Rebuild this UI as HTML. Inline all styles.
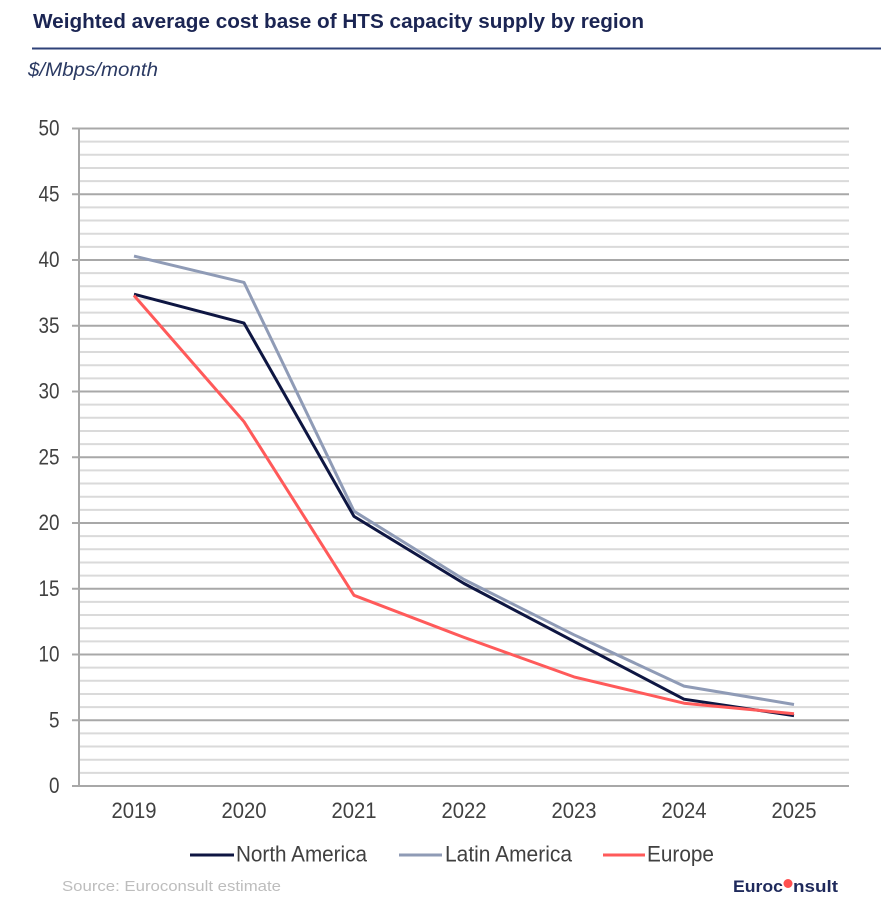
<!DOCTYPE html>
<html>
<head>
<meta charset="utf-8">
<style>
html,body{margin:0;padding:0;background:#ffffff;}
svg{display:block;}
text{font-family:"Liberation Sans",Arial,sans-serif;}
</style>
</head>
<body>
<svg width="891" height="906" viewBox="0 0 891 906" xmlns="http://www.w3.org/2000/svg">
<rect width="891" height="906" fill="#ffffff"/>
<text x="33" y="28" font-size="20" font-weight="bold" fill="#1b2553" textLength="611" lengthAdjust="spacingAndGlyphs">Weighted average cost base of HTS capacity supply by region</text>
<line x1="32" y1="48.5" x2="881" y2="48.5" stroke="#2f4279" stroke-width="2"/>
<text x="28" y="76" font-size="19" font-style="italic" fill="#2b3a63" textLength="130" lengthAdjust="spacingAndGlyphs">$/Mbps/month</text>
<g stroke="#dadada" stroke-width="2">
<line x1="79" x2="849" y1="772.85" y2="772.85"/>
<line x1="79" x2="849" y1="759.7" y2="759.7"/>
<line x1="79" x2="849" y1="746.55" y2="746.55"/>
<line x1="79" x2="849" y1="733.4" y2="733.4"/>
<line x1="79" x2="849" y1="707.1" y2="707.1"/>
<line x1="79" x2="849" y1="693.95" y2="693.95"/>
<line x1="79" x2="849" y1="680.8" y2="680.8"/>
<line x1="79" x2="849" y1="667.65" y2="667.65"/>
<line x1="79" x2="849" y1="641.35" y2="641.35"/>
<line x1="79" x2="849" y1="628.2" y2="628.2"/>
<line x1="79" x2="849" y1="615.05" y2="615.05"/>
<line x1="79" x2="849" y1="601.9" y2="601.9"/>
<line x1="79" x2="849" y1="575.6" y2="575.6"/>
<line x1="79" x2="849" y1="562.45" y2="562.45"/>
<line x1="79" x2="849" y1="549.3" y2="549.3"/>
<line x1="79" x2="849" y1="536.15" y2="536.15"/>
<line x1="79" x2="849" y1="509.85" y2="509.85"/>
<line x1="79" x2="849" y1="496.7" y2="496.7"/>
<line x1="79" x2="849" y1="483.55" y2="483.55"/>
<line x1="79" x2="849" y1="470.4" y2="470.4"/>
<line x1="79" x2="849" y1="444.1" y2="444.1"/>
<line x1="79" x2="849" y1="430.95" y2="430.95"/>
<line x1="79" x2="849" y1="417.8" y2="417.8"/>
<line x1="79" x2="849" y1="404.65" y2="404.65"/>
<line x1="79" x2="849" y1="378.35" y2="378.35"/>
<line x1="79" x2="849" y1="365.2" y2="365.2"/>
<line x1="79" x2="849" y1="352.05" y2="352.05"/>
<line x1="79" x2="849" y1="338.9" y2="338.9"/>
<line x1="79" x2="849" y1="312.6" y2="312.6"/>
<line x1="79" x2="849" y1="299.45" y2="299.45"/>
<line x1="79" x2="849" y1="286.3" y2="286.3"/>
<line x1="79" x2="849" y1="273.15" y2="273.15"/>
<line x1="79" x2="849" y1="246.85" y2="246.85"/>
<line x1="79" x2="849" y1="233.7" y2="233.7"/>
<line x1="79" x2="849" y1="220.55" y2="220.55"/>
<line x1="79" x2="849" y1="207.4" y2="207.4"/>
<line x1="79" x2="849" y1="181.1" y2="181.1"/>
<line x1="79" x2="849" y1="167.95" y2="167.95"/>
<line x1="79" x2="849" y1="154.8" y2="154.8"/>
<line x1="79" x2="849" y1="141.65" y2="141.65"/>
</g>
<g stroke="#a8a8a8" stroke-width="2">
<line x1="72" x2="849" y1="786" y2="786"/>
<line x1="72" x2="849" y1="720.25" y2="720.25"/>
<line x1="72" x2="849" y1="654.5" y2="654.5"/>
<line x1="72" x2="849" y1="588.75" y2="588.75"/>
<line x1="72" x2="849" y1="523" y2="523"/>
<line x1="72" x2="849" y1="457.25" y2="457.25"/>
<line x1="72" x2="849" y1="391.5" y2="391.5"/>
<line x1="72" x2="849" y1="325.75" y2="325.75"/>
<line x1="72" x2="849" y1="260" y2="260"/>
<line x1="72" x2="849" y1="194.25" y2="194.25"/>
<line x1="72" x2="849" y1="128.5" y2="128.5"/>
<line x1="79" x2="79" y1="128" y2="787"/>
</g>
<g font-size="22" fill="#404040" text-anchor="end">
<text x="59.5" y="793" textLength="10.5" lengthAdjust="spacingAndGlyphs">0</text>
<text x="59.5" y="727.25" textLength="10.5" lengthAdjust="spacingAndGlyphs">5</text>
<text x="59.5" y="661.5" textLength="21" lengthAdjust="spacingAndGlyphs">10</text>
<text x="59.5" y="595.75" textLength="21" lengthAdjust="spacingAndGlyphs">15</text>
<text x="59.5" y="530" textLength="21" lengthAdjust="spacingAndGlyphs">20</text>
<text x="59.5" y="464.25" textLength="21" lengthAdjust="spacingAndGlyphs">25</text>
<text x="59.5" y="398.5" textLength="21" lengthAdjust="spacingAndGlyphs">30</text>
<text x="59.5" y="332.75" textLength="21" lengthAdjust="spacingAndGlyphs">35</text>
<text x="59.5" y="267" textLength="21" lengthAdjust="spacingAndGlyphs">40</text>
<text x="59.5" y="201.25" textLength="21" lengthAdjust="spacingAndGlyphs">45</text>
<text x="59.5" y="135.5" textLength="21" lengthAdjust="spacingAndGlyphs">50</text>
</g>
<g font-size="22" fill="#404040">
<text x="111.5" y="818" textLength="45" lengthAdjust="spacingAndGlyphs">2019</text>
<text x="221.5" y="818" textLength="45" lengthAdjust="spacingAndGlyphs">2020</text>
<text x="331.5" y="818" textLength="45" lengthAdjust="spacingAndGlyphs">2021</text>
<text x="441.5" y="818" textLength="45" lengthAdjust="spacingAndGlyphs">2022</text>
<text x="551.5" y="818" textLength="45" lengthAdjust="spacingAndGlyphs">2023</text>
<text x="661.5" y="818" textLength="45" lengthAdjust="spacingAndGlyphs">2024</text>
<text x="771.5" y="818" textLength="45" lengthAdjust="spacingAndGlyphs">2025</text>
</g>
<g fill="none" stroke-width="3" stroke-linejoin="round">
<polyline stroke="#8f9bb6" points="134,256.1 244,282.4 354,511.2 464,579.5 574,634.8 684,686.1 794,704.5"/>
<polyline stroke="#0e1642" points="134,294.2 244,323.1 354,516.4 464,583.5 574,641.4 684,699.2 794,715.6"/>
<polyline stroke="#ff5a5a" points="134,295.5 244,421.7 354,595.3 464,637.4 574,676.9 684,703.2 794,713.7"/>
</g>
<line x1="190" y1="855" x2="234" y2="855" stroke="#0e1642" stroke-width="3"/>
<text x="236" y="861.5" font-size="22" fill="#404040" textLength="131" lengthAdjust="spacingAndGlyphs">North America</text>
<line x1="399" y1="855" x2="442" y2="855" stroke="#8f9bb6" stroke-width="3"/>
<text x="445" y="861.5" font-size="22" fill="#404040" textLength="127" lengthAdjust="spacingAndGlyphs">Latin America</text>
<line x1="603" y1="855" x2="645" y2="855" stroke="#ff5a5a" stroke-width="3"/>
<text x="647" y="861.5" font-size="22" fill="#404040" textLength="67" lengthAdjust="spacingAndGlyphs">Europe</text>
<text x="62" y="891" font-size="15" fill="#bdbdbd" textLength="219" lengthAdjust="spacingAndGlyphs">Source: Euroconsult estimate</text>
<text x="733" y="892" font-size="17" font-weight="bold" fill="#1f2a5c" textLength="50" lengthAdjust="spacingAndGlyphs">Euroc</text>
<circle cx="788" cy="883.5" r="4.5" fill="#ff4f4f"/>
<text x="838" y="892" font-size="17" font-weight="bold" fill="#1f2a5c" text-anchor="end" textLength="45" lengthAdjust="spacingAndGlyphs">nsult</text>
</svg>
</body>
</html>
